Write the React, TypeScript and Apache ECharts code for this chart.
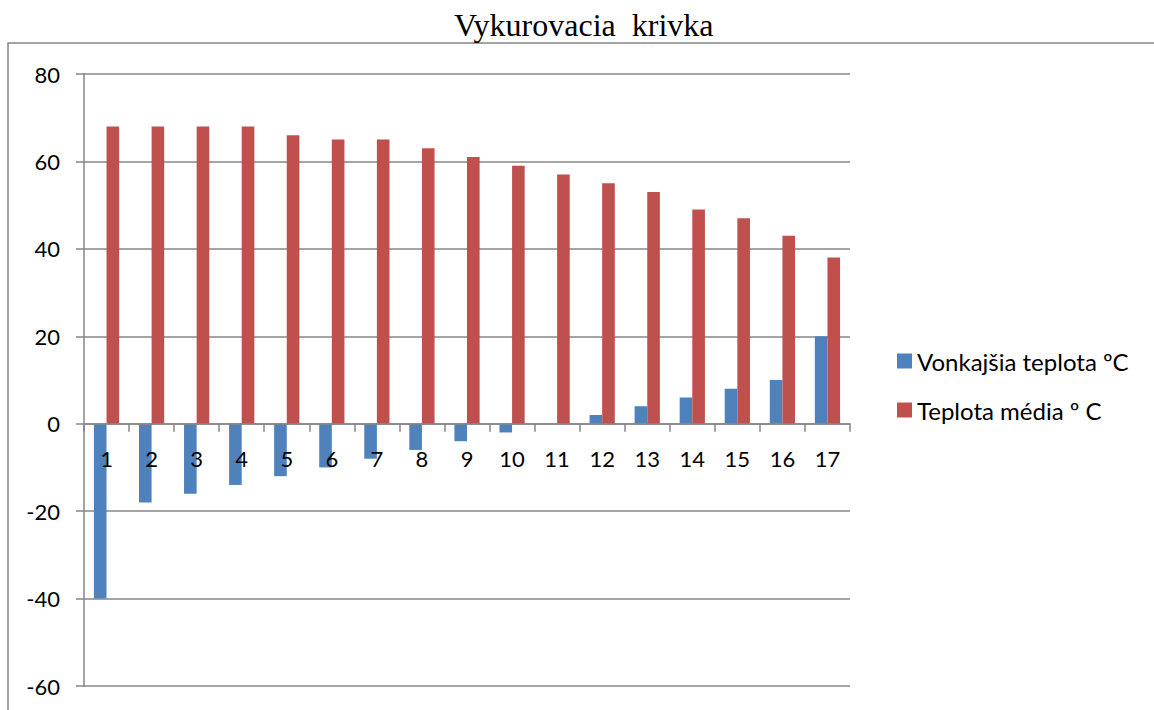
import React, { useEffect, useRef } from "react";
import * as echarts from "echarts";

const categories = ["1","2","3","4","5","6","7","8","9","10","11","12","13","14","15","16","17"];
const vonkajsia = [-40, -18, -16, -14, -12, -10, -8, -6, -4, -2, 0, 2, 4, 6, 8, 10, 20];
const media = [68, 68, 68, 68, 66, 65, 65, 63, 61, 59, 57, 55, 53, 49, 47, 43, 38];
const seriesNames = ["Vonkajšia teplota ºC", "Teplota média º C"];
const titleText = "Vykurovacia  krivka";
const yMin = -60;
const yMax = 80;

export default function App() {
  const ref = useRef<HTMLDivElement>(null);
  useEffect(() => {
    if (!ref.current) return;
    const chart = echarts.init(ref.current, null, { renderer: "svg" });
    const sans = "Lato, 'Noto Sans', sans-serif";
    const gridTop = 74;
    const gridBottom = 24;
    const plotH = 710 - gridTop - gridBottom;
    const zeroOffset = -plotH * (0 - yMin) / (yMax - yMin);
    chart.setOption({
      animation: false,
      backgroundColor: "#ffffff",
      title: {
        text: titleText,
        left: 449,
        top: 4,
        textStyle: { fontFamily: "'Liberation Serif', serif", fontSize: 32, fontWeight: "normal", color: "#000" },
      },
      graphic: [
        {
          type: "rect",
          shape: { x: 8, y: 43, width: 1200, height: 720 },
          style: { fill: "none", stroke: "#868686", lineWidth: 1.5 },
          silent: true,
        },
      ],
      legend: {
        orient: "vertical",
        left: 892,
        top: 344,
        itemWidth: 15,
        itemHeight: 15,
        itemGap: 25,
        icon: "rect",
        textStyle: { fontFamily: sans, fontSize: 24, color: "#000" },
        data: seriesNames,
      },
      grid: { left: 84, right: 304, top: gridTop, bottom: gridBottom, containLabel: false, outerBoundsMode: "none" },
      xAxis: {
        type: "category",
        data: categories,
        offset: zeroOffset,
        z: 10,
        axisLine: { onZero: false, lineStyle: { color: "#868686", width: 1.5 } },
        axisTick: { show: true, length: 8, inside: false, lineStyle: { color: "#868686", width: 1.5 } },
        axisLabel: { interval: 0, margin: 24, fontFamily: sans, fontSize: 22, color: "#000" },
        splitLine: { show: false },
      },
      yAxis: {
        type: "value",
        min: yMin,
        max: yMax,
        interval: 20,
        axisLine: { show: true, lineStyle: { color: "#868686", width: 1.5 } },
        axisTick: { show: true, length: 8, lineStyle: { color: "#868686", width: 1.5 } },
        axisLabel: { margin: 24, fontFamily: sans, fontSize: 22, color: "#000" },
        splitLine: { show: true, lineStyle: { color: "#868686", width: 1.5 } },
      },
      series: [
        {
          name: seriesNames[0],
          type: "bar",
          data: vonkajsia,
          itemStyle: { color: "#4F81BD" },
          barGap: "0%",
          barCategoryGap: "44%",
        },
        {
          name: seriesNames[1],
          type: "bar",
          data: media,
          itemStyle: { color: "#C0504D" },
          barGap: "0%",
          barCategoryGap: "44%",
        },
      ],
    });
    return () => chart.dispose();
  }, []);
  return <div ref={ref} style={{ position: "absolute", left: 0, top: 0, width: 1154, height: 710 }} />;
}
